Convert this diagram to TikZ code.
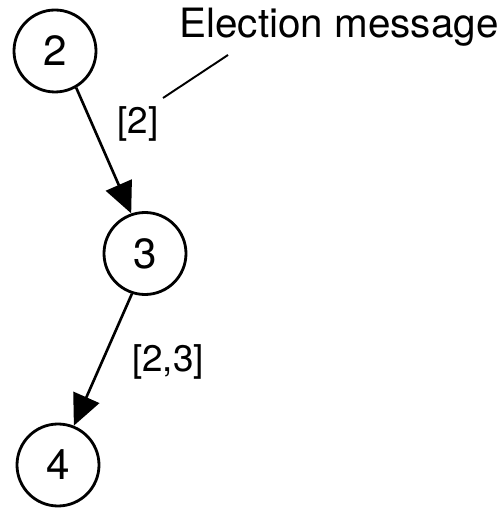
\documentclass[tikz,border=0pt]{standalone}
\usepackage{fontspec}
\setmainfont{TeX Gyre Heros}
\usetikzlibrary{arrows.meta}
\tikzset{
  proc/.style={draw,circle,line width=1.6pt,minimum size=1.64cm,inner sep=0pt,
    font=\fontsize{24}{28}\selectfont},
  msg/.style={line width=1.5pt,-{Triangle[length=6.2mm,width=5.6mm]}},
  tag/.style={font=\fontsize{21}{25}\selectfont}
}
\begin{document}
\begin{tikzpicture}
\useasboundingbox (0,0) rectangle (10.04,10.22);

\node[proc] (p2) at (1.10,9.20){2};
\node[proc] (p3) at (2.90,5.15){3};
\node[proc] (p4) at (1.16,0.92){4};

\draw[msg] (p2.-60)--(p3.109); %first hop
\draw[msg] (p3.-108)--(p4.68); %second hop

\node[tag] (m2) at (2.76,7.74){[2]}; %list after 2
\node[tag] (m23) at (3.36,2.98){[2,3]}; %list after 3
\node[font=\fontsize{23}{27}\selectfont,anchor=base] (elec) at (6.78,9.46){Election message};

\coordinate (from) at (3.26,8.26);
\coordinate (to) at (4.56,9.12);
\draw[line width=1.1pt] (from)--(to); %pointer to label
\end{tikzpicture}
\end{document}
